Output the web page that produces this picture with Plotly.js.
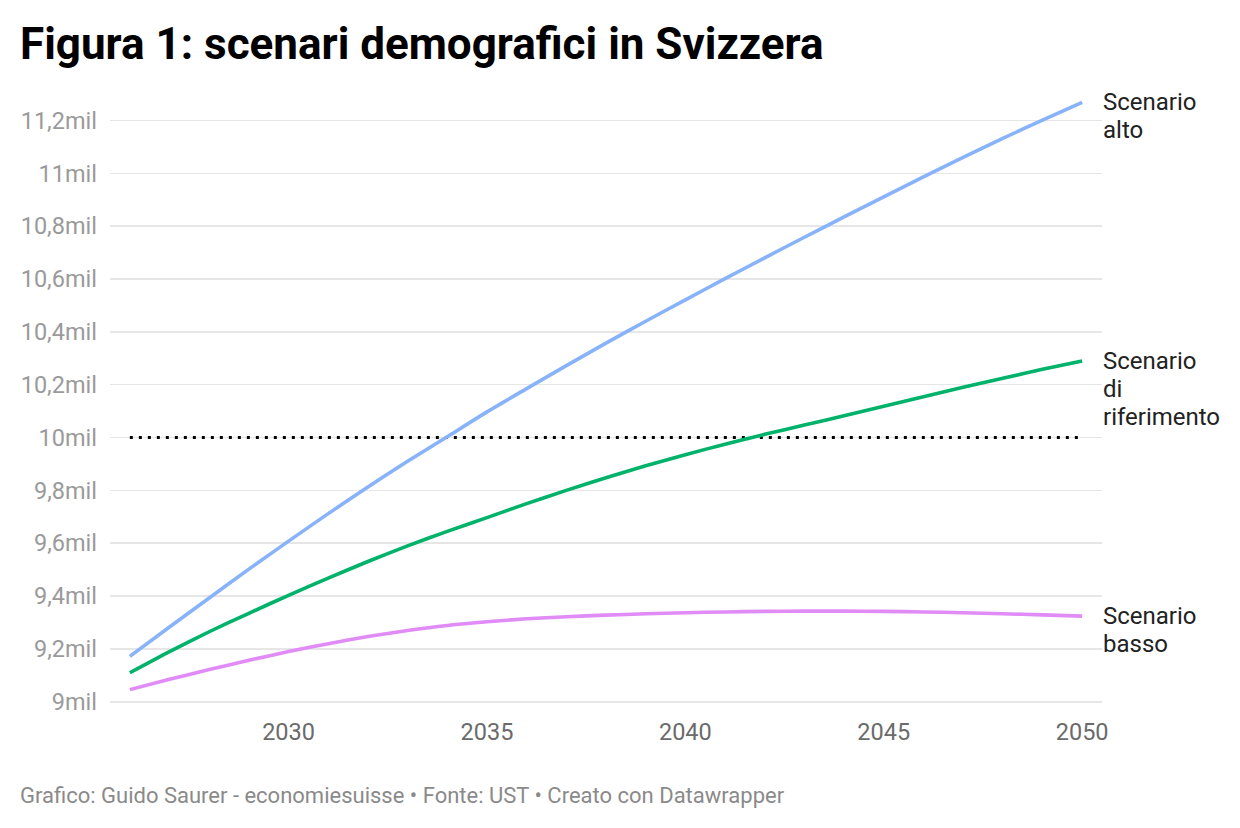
<!DOCTYPE html>
<html>
<head>
<meta charset="utf-8">
<script src="https://cdn.plot.ly/plotly-3.0.1.min.js"></script>
<style>
  html, body { margin: 0; padding: 0; background: #fff; }
  #chart { width: 1240px; height: 828px; }
</style>
</head>
<body>
<div id="chart"></div>
<script>
// ---- data ----
const years = [2026, 2027, 2028, 2029, 2030, 2031, 2032, 2033, 2034, 2035, 2036, 2037, 2038,
               2039, 2040, 2041, 2042, 2043, 2044, 2045, 2046, 2047, 2048, 2049, 2050];
const scenarioAlto = [9.172, 9.283, 9.393, 9.502, 9.608, 9.712, 9.813, 9.910, 10.003, 10.097,
                      10.185, 10.272, 10.357, 10.440, 10.521, 10.601, 10.680, 10.758, 10.835,
                      10.911, 10.986, 11.060, 11.132, 11.201, 11.268];
const scenarioRiferimento = [9.110, 9.190, 9.265, 9.335, 9.403, 9.468, 9.531, 9.590, 9.645, 9.697,
                             9.750, 9.800, 9.848, 9.893, 9.935, 9.975, 10.012, 10.047, 10.082,
                             10.118, 10.154, 10.190, 10.224, 10.258, 10.290];
const scenarioBasso = [9.046, 9.085, 9.122, 9.157, 9.190, 9.220, 9.247, 9.270, 9.289, 9.303,
                       9.314, 9.322, 9.328, 9.333, 9.337, 9.340, 9.342, 9.343, 9.343, 9.342,
                       9.340, 9.337, 9.333, 9.329, 9.324];
const thresholdYears = [2026, 2050];
const thresholdValues = [10, 10];
const seriesNames = ["Scenario alto", "Scenario di riferimento", "Scenario basso"];
const seriesLabelLines = [["Scenario", "alto"], ["Scenario", "di", "riferimento"], ["Scenario", "basso"]];
const yTickVals = [9, 9.2, 9.4, 9.6, 9.8, 10, 10.2, 10.4, 10.6, 10.8, 11, 11.2];
const yTickText = ["9mil", "9,2mil", "9,4mil", "9,6mil", "9,8mil", "10mil", "10,2mil",
                   "10,4mil", "10,6mil", "10,8mil", "11mil", "11,2mil"];
const xTickVals = [2030, 2035, 2040, 2045, 2050];
const xTickText = ["2030", "2035", "2040", "2045", "2050"];
const titleText = "Figura 1: scenari demografici in Svizzera";
const footerText = "Grafico: Guido Saurer - economiesuisse • Fonte: UST • Creato con Datawrapper";

// ---- styles ----
const colors = ["#88b3fa", "#00b26a", "#e08bf6"];
const FONT = "Roboto, 'Noto Sans', sans-serif";
const LABEL_LINE = 28;

const seriesValues = [scenarioAlto, scenarioRiferimento, scenarioBasso];

const traces = [{
  x: thresholdYears, y: thresholdValues, type: "scatter", mode: "lines",
  line: { color: "#000000", width: 3, dash: "3px,6px" },
  hoverinfo: "skip", showlegend: false
}];
seriesValues.forEach((vals, i) => {
  traces.push({
    x: years, y: vals, type: "scatter", mode: "lines", name: seriesNames[i],
    line: { color: colors[i], width: 3.6, shape: "spline", smoothing: 0.6 },
    showlegend: false, cliponaxis: false
  });
});

const annotations = [];
seriesValues.forEach((vals, i) => {
  seriesLabelLines[i].forEach((line, k) => {
    annotations.push({
      xref: "paper", x: 1, xanchor: "left", xshift: -1,
      yref: "y", y: vals[vals.length - 1], yanchor: "middle", yshift: -LABEL_LINE * k,
      text: line, showarrow: false, align: "left",
      font: { family: FONT, size: 24, color: "#222222" }
    });
  });
});
// footer (plot area: x 110..1102, y 93.6..714.9)
annotations.push({
  xref: "paper", x: (18 - 110) / 992, xanchor: "left",
  yref: "paper", y: (714.9 - 795) / 621.3, yanchor: "middle",
  text: footerText, showarrow: false, align: "left",
  font: { family: FONT, size: 22, color: "#8a8a8a" }
});

const layout = {
  width: 1240, height: 828,
  paper_bgcolor: "#ffffff", plot_bgcolor: "#ffffff",
  margin: { l: 110, r: 138, t: 93.6, b: 113.1, pad: 0 },
  title: {
    text: "<b>" + titleText + "</b>",
    xref: "container", x: 20 / 1240, xanchor: "left",
    yref: "container", y: 1 - 44 / 828, yanchor: "middle",
    font: { family: FONT, size: 44, color: "#000000" }
  },
  xaxis: {
    range: [2025.5, 2050.5], tickmode: "array", tickvals: xTickVals, ticktext: xTickText,
    showgrid: false, zeroline: false, showline: false, ticks: "",
    tickfont: { family: FONT, size: 23.5, color: "#6b6b6b" }, fixedrange: true
  },
  yaxis: {
    range: [8.95, 11.3], tickmode: "array", tickvals: yTickVals, ticktext: yTickText,
    showgrid: true, gridcolor: "#e6e6e6", gridwidth: 1.5, zeroline: false, showline: false,
    ticks: "", ticklabelstandoff: 12,
    tickfont: { family: FONT, size: 23.5, color: "#9a9a9a" }, fixedrange: true
  },
  annotations: annotations,
  showlegend: false
};

Plotly.newPlot("chart", traces, layout, { displayModeBar: false, staticPlot: true });
</script>
</body>
</html>
